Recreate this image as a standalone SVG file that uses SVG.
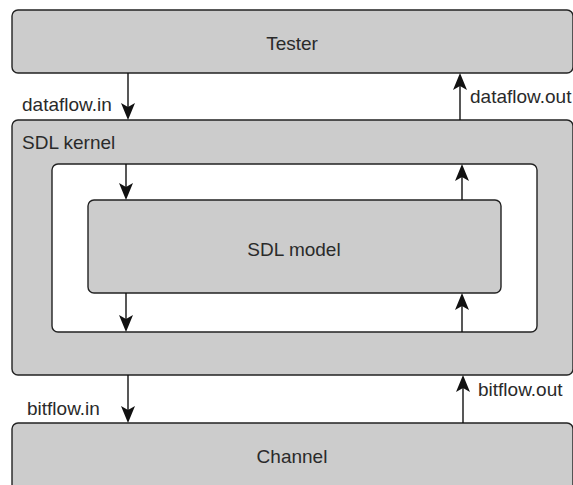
<svg xmlns="http://www.w3.org/2000/svg" width="573" height="485" viewBox="0 0 573 485">
<defs>
<style>
.box{fill:#cccccc;stroke:#222;stroke-width:1.4}
.white{fill:#ffffff;stroke:#222;stroke-width:1.4}
.lbl{font-family:"Liberation Sans",Arial,sans-serif;font-size:19px;fill:#2a2a2a}
.c{text-anchor:middle}
.ln{stroke:#111;stroke-width:1.4;fill:none}
.ah{fill:#111}
</style>
</defs>
<rect width="573" height="485" fill="#ffffff"/>
<g id="tester">
<rect class="box" x="12" y="10" width="561" height="63" rx="6"/>
<text class="lbl c" x="292" y="50">Tester</text>
</g>
<g id="sdl-kernel">
<rect class="box" x="12" y="120" width="561" height="255" rx="6"/>
<text class="lbl" x="22" y="149">SDL kernel</text>
<rect class="white" x="52" y="164" width="485" height="168" rx="6"/>
</g>
<g id="sdl-model">
<rect class="box" x="88" y="200" width="413" height="93" rx="6"/>
<text class="lbl c" x="294" y="256">SDL model</text>
</g>
<g id="channel">
<rect class="box" x="12" y="423" width="561" height="70" rx="6"/>
<text class="lbl c" x="292" y="463">Channel</text>
</g>
<g id="connectors">
<line class="ln" x1="128" y1="73" x2="128" y2="112"/>
<path class="ah" d="M128,120 L121,103 L128,107 L135,103 Z"/>
<text class="lbl" x="22" y="111">dataflow.in</text>
<line class="ln" x1="460" y1="120" x2="460" y2="81"/>
<path class="ah" d="M460,73 L453,90 L460,86 L467,90 Z"/>
<text class="lbl" x="470" y="103">dataflow.out</text>
<line class="ln" x1="126" y1="164" x2="126" y2="193"/>
<path class="ah" d="M126,200 L119,183 L126,187 L133,183 Z"/>
<line class="ln" x1="462" y1="200" x2="462" y2="171"/>
<path class="ah" d="M462,164 L455,181 L462,177 L469,181 Z"/>
<line class="ln" x1="126" y1="293" x2="126" y2="325"/>
<path class="ah" d="M126,332 L119,315 L126,319 L133,315 Z"/>
<line class="ln" x1="462" y1="332" x2="462" y2="300"/>
<path class="ah" d="M462,293 L455,310 L462,306 L469,310 Z"/>
<line class="ln" x1="128" y1="375" x2="128" y2="416"/>
<path class="ah" d="M128,423 L121,406 L128,410 L135,406 Z"/>
<text class="lbl" x="27" y="415">bitflow.in</text>
<line class="ln" x1="463" y1="423" x2="463" y2="382"/>
<path class="ah" d="M463,375 L456,392 L463,388 L470,392 Z"/>
<text class="lbl" x="478" y="396">bitflow.out</text>
</g>
</svg>
